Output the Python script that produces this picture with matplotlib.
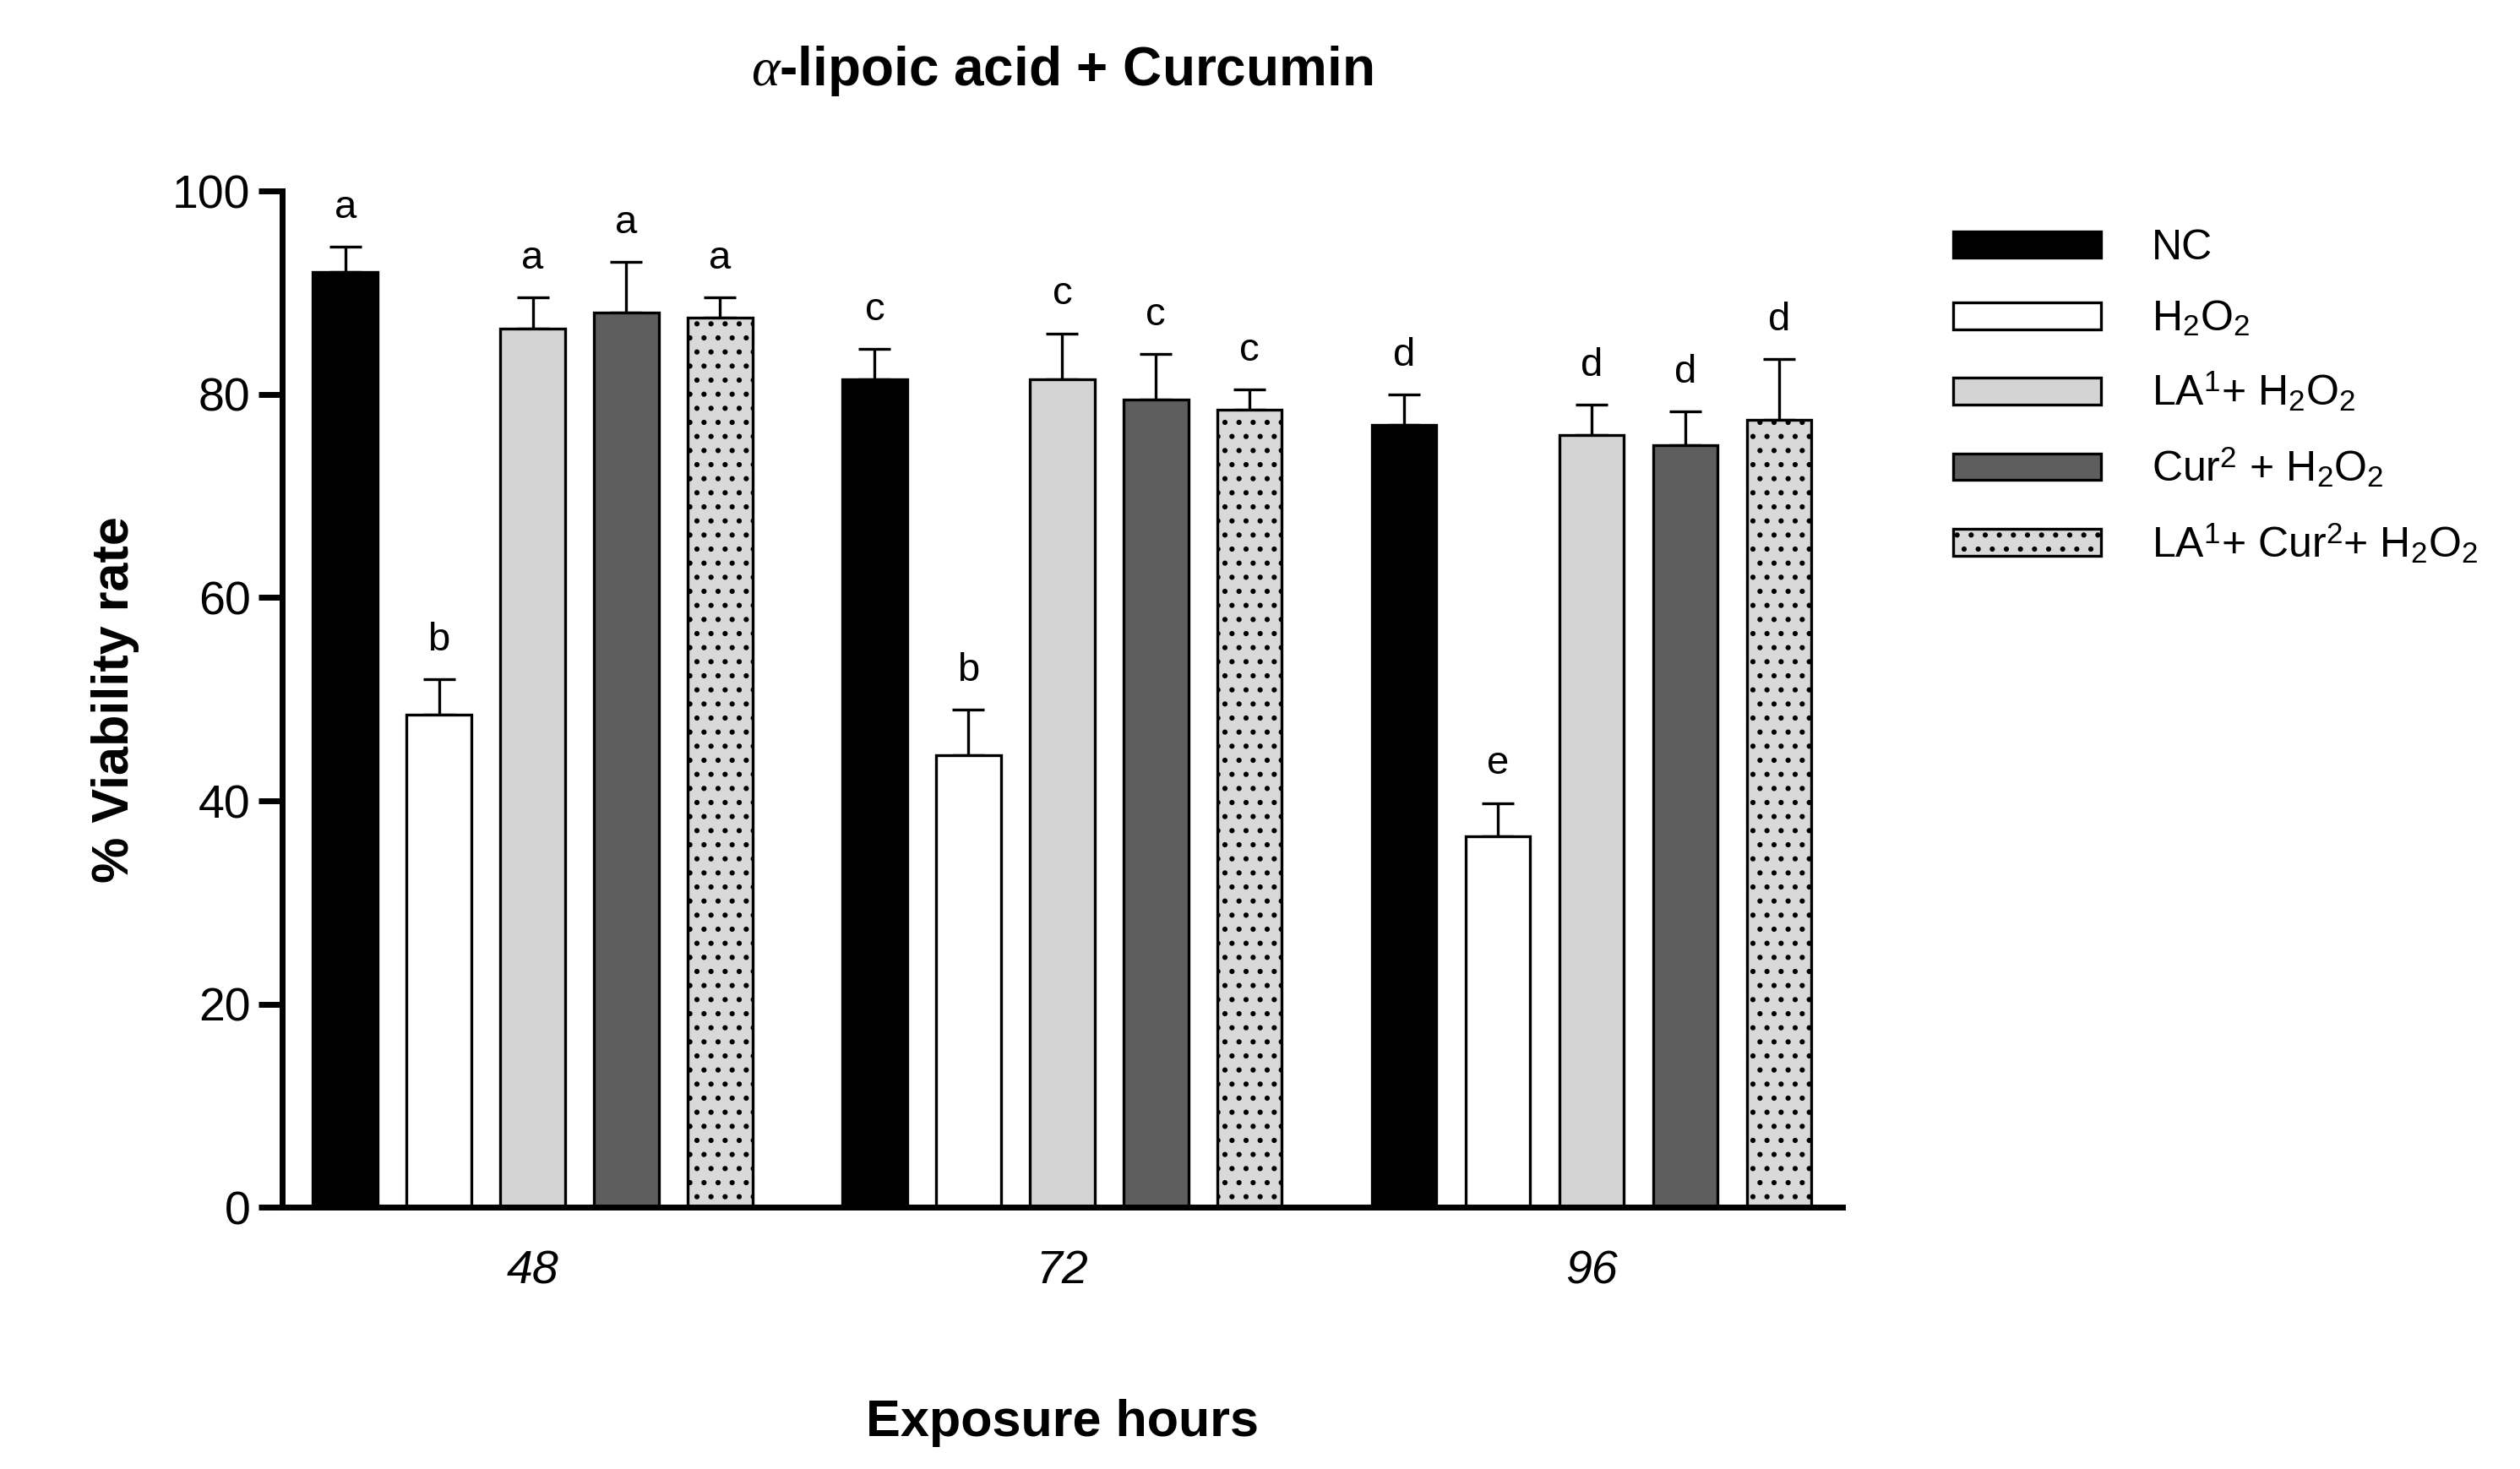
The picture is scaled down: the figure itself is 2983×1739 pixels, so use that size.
import matplotlib
matplotlib.use('Agg')
import matplotlib.pyplot as plt
import numpy as np

plt.rcParams['font.family'] = ['Liberation Sans', 'DejaVu Sans']
plt.rcParams['mathtext.fontset'] = 'custom'
plt.rcParams['mathtext.rm'] = 'Liberation Sans'
plt.rcParams['mathtext.it'] = 'Liberation Serif:italic'
plt.rcParams['mathtext.bf'] = 'Liberation Sans:bold'

hours = ['48', '72', '96']
series = ['NC', 'H$_2$O$_2$', 'LA$^1$+ H$_2$O$_2$', 'Cur$^2$ + H$_2$O$_2$', 'LA$^1$+ Cur$^2$+ H$_2$O$_2$']
means = [
    [92.0, 81.5, 77.0],
    [48.5, 44.5, 36.5],
    [86.5, 81.5, 76.0],
    [88.0, 79.5, 75.0],
    [87.5, 78.5, 77.5],
]
errs = [
    [2.5, 3.0, 3.0],
    [3.5, 4.5, 3.3],
    [3.0, 4.5, 3.0],
    [5.0, 4.5, 3.3],
    [2.0, 2.0, 6.0],
]
letters = [
    ['a', 'c', 'd'],
    ['b', 'b', 'e'],
    ['a', 'c', 'd'],
    ['a', 'c', 'd'],
    ['a', 'c', 'd'],
]
colors = ['#000000', '#ffffff', '#d4d4d4', '#5e5e5e', '#d9d9d9']
hatches = [None, None, None, None, '..']

fig = plt.figure(figsize=(14.915, 8.695), dpi=200)
ax = fig.add_axes([0.112, 0.178, 0.619, 0.692])
plt.rcParams['hatch.linewidth'] = 1.0

x = np.arange(len(hours))
step = 0.177
width = 0.122
for j in range(len(series)):
    pos = x + (j - 2) * step
    ax.bar(pos, means[j], width, color=colors[j], edgecolor='black', linewidth=1.2,
           hatch=hatches[j], label=series[j], zorder=2)
    ax.errorbar(pos, means[j], yerr=[np.zeros(3), errs[j]], fmt='none', ecolor='black',
                elinewidth=1.2, capsize=7, capthick=1.2, zorder=1)
    for p, m, e, l in zip(pos, means[j], errs[j], letters[j]):
        ax.text(p, m + e + 2, l, ha='center', va='bottom', fontsize=17)

ax.set_xlim(-0.473, 2.473)
ax.set_ylim(0, 100)
ax.set_yticks([0, 20, 40, 60, 80, 100])
ax.set_xticks(x)
ax.set_xticklabels(hours, fontstyle='italic')
ax.tick_params(axis='both', labelsize=20, width=2.5, length=10)
ax.tick_params(axis='x', length=0, pad=18)
for s in ['top', 'right']:
    ax.spines[s].set_visible(False)
for s in ['left', 'bottom']:
    ax.spines[s].set_linewidth(2.5)

ax.set_ylabel('% Viability rate', fontsize=22, fontweight='bold', labelpad=14)
ax.set_xlabel('Exposure hours', fontsize=22, fontweight='bold', labelpad=45)
ax.set_title(r'$\alpha$-lipoic acid + Curcumin', fontsize=23, fontweight='bold', pad=45)

fig.legend(loc='upper left', bbox_to_anchor=(0.76, 0.87), frameon=False, fontsize=18,
           handlelength=3.5, handleheight=0.6, labelspacing=0.75, handletextpad=1.2)

plt.savefig('out.png', dpi=200)
